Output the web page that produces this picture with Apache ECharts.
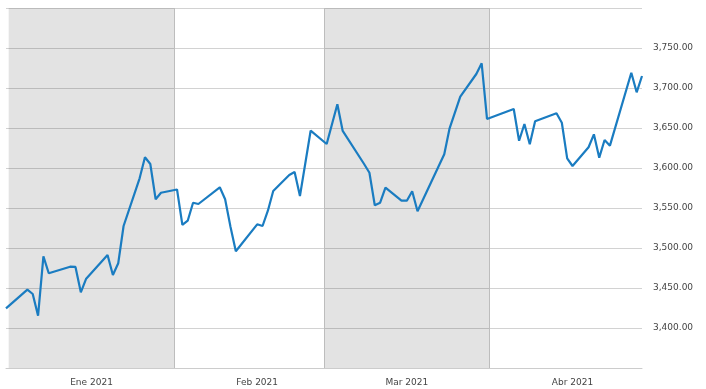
<!DOCTYPE html>
<html>
<head>
<meta charset="utf-8">
<script src="https://cdn.jsdelivr.net/npm/echarts@6/dist/echarts.min.js"></script>
<style>html,body{margin:0;padding:0;background:#fff;}#c{width:706px;height:389px;}</style>
</head>
<body>
<div id="c"></div>
<script>
const dates = ['2020-12-31','2021-01-04','2021-01-05','2021-01-06','2021-01-07','2021-01-08','2021-01-12','2021-01-13','2021-01-14','2021-01-15','2021-01-19','2021-01-20','2021-01-21','2021-01-22','2021-01-25','2021-01-26','2021-01-27','2021-01-28','2021-01-29','2021-02-01','2021-02-02','2021-02-03','2021-02-04','2021-02-05','2021-02-09','2021-02-10','2021-02-11','2021-02-12','2021-02-16','2021-02-17','2021-02-18','2021-02-19','2021-02-22','2021-02-23','2021-02-24','2021-02-26','2021-03-01','2021-03-03','2021-03-04','2021-03-08','2021-03-09','2021-03-10','2021-03-11','2021-03-12','2021-03-15','2021-03-16','2021-03-17','2021-03-18','2021-03-23','2021-03-24','2021-03-26','2021-03-29','2021-03-30','2021-03-31','2021-04-05','2021-04-06','2021-04-07','2021-04-08','2021-04-09','2021-04-13','2021-04-14','2021-04-15','2021-04-16','2021-04-19','2021-04-20','2021-04-21','2021-04-22','2021-04-23','2021-04-27','2021-04-28','2021-04-29'];
const values = [3424.6,3447.9,3442.5,3415.4,3489.6,3468.4,3476.6,3476.3,3444.6,3461.6,3491.3,3466.3,3480.9,3527.5,3587.1,3613.4,3605.0,3560.9,3569.1,3573.1,3528.8,3534.1,3556.6,3555.0,3575.9,3560.9,3526.6,3495.9,3529.6,3527.5,3546.6,3571.3,3591.3,3595.0,3565.0,3646.6,3630.0,3679.6,3646.3,3605.0,3594.1,3553.4,3556.6,3575.4,3559.1,3559.1,3570.9,3545.9,3617.1,3649.6,3689.1,3717.5,3730.9,3661.3,3673.8,3634.1,3655.0,3629.6,3658.4,3668.4,3656.6,3612.1,3602.5,3625.9,3642.1,3612.9,3635.0,3627.9,3719.1,3694.6,3715.0];
const monthLabels = ['Ene 2021','Feb 2021','Mar 2021','Abr 2021'];
const labelDates = ['2021-01-16','2021-02-16','2021-03-16','2021-04-16'];
const shadedMonths = [['2021-01-01','2021-02-01'],['2021-03-01','2021-04-01']];
const monthStarts = ['2021-02-01','2021-03-01','2021-04-01'];
const yTicksMin = 3350, yTicksMax = 3800, yStep = 50;

function t(s, h) { const p = s.split('-').map(Number); return Date.UTC(p[0], p[1]-1, p[2], h || 0); }
function fmt(v) {
  const s = v.toFixed(2); const parts = s.split('.');
  return parts[0].replace(/\B(?=(\d{3})+(?!\d))/g, ',') + '.' + parts[1];
}
const labelTs = labelDates.map(d => t(d, 12));
const font = 'DejaVu Sans';

const chart = echarts.init(document.getElementById('c'), null, {renderer: 'canvas'});
chart.setOption({
  animation: false,
  backgroundColor: '#ffffff',
  grid: {left: 6, right: 64, top: 8, bottom: 21},
  xAxis: {
    type: 'value',
    min: t('2020-12-31', 12),
    max: t('2021-04-29', 12),
    axisLine: {show: true, onZero: false, lineStyle: {color: '#cccccc', width: 1}},
    axisTick: {show: false},
    splitLine: {show: false},
    axisLabel: {
      customValues: labelTs,
      formatter: function (v) {
        let best = 0, bd = Infinity;
        labelTs.forEach((ts, i) => { const d = Math.abs(ts - v); if (d < bd) { bd = d; best = i; } });
        return monthLabels[best];
      },
      color: '#444444', fontFamily: font, fontSize: 9, margin: 10
    }
  },
  yAxis: {
    type: 'value',
    position: 'right',
    min: yTicksMin, max: yTicksMax, interval: yStep,
    axisLine: {show: false},
    axisTick: {show: false},
    splitLine: {show: true, lineStyle: {color: '#d2d2d2', width: 1}},
    axisLabel: {
      formatter: v => (v === yTicksMin || v === yTicksMax) ? '' : fmt(v),
      color: '#444444', fontFamily: font, fontSize: 9, margin: 11, align: 'left'
    }
  },
  series: [{
    type: 'line',
    data: dates.map((d, i) => [t(d, 12), values[i]]),
    showSymbol: false,
    symbol: 'none',
    lineStyle: {color: '#1a7cc1', width: 2.2},
    z: 5,
    markArea: {
      silent: true,
      itemStyle: {color: 'rgba(0,0,0,0.11)'},
      data: shadedMonths.map(r => [{xAxis: t(r[0])}, {xAxis: t(r[1])}])
    },
    markLine: {
      silent: true,
      symbol: ['none', 'none'],
      label: {show: false},
      lineStyle: {color: '#bdbdbd', width: 1, type: 'solid'},
      data: monthStarts.map(d => ({xAxis: t(d)}))
    }
  }]
});
</script>
</body>
</html>
